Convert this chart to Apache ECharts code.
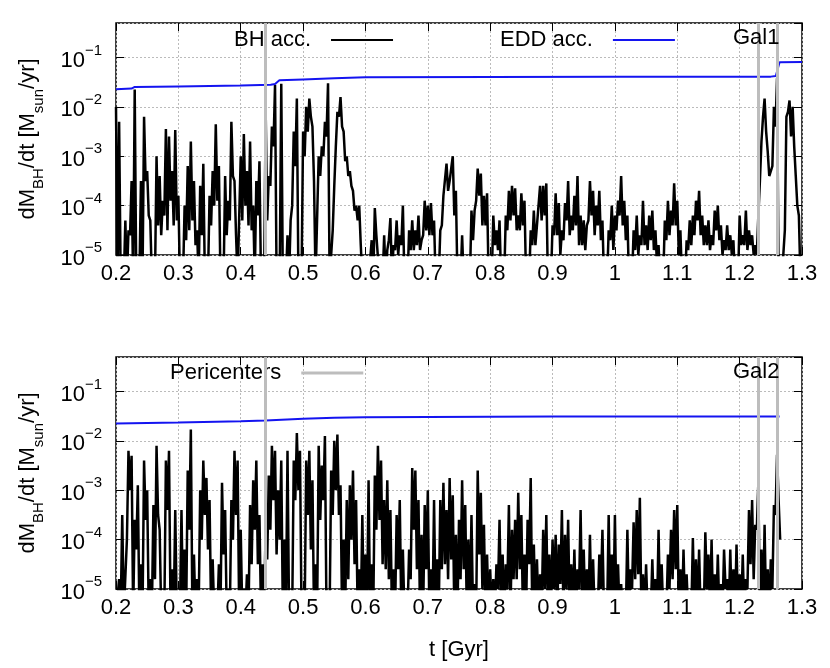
<!DOCTYPE html>
<html>
<head>
<meta charset="utf-8">
<script src="https://cdn.jsdelivr.net/npm/echarts@6/dist/echarts.min.js"></script>
<style>
  html, body { margin: 0; padding: 0; background: #fff; }
  #chart { width: 830px; height: 668px; }
</style>
</head>
<body>
<div id="chart"></div>
<script>
// time grid of the black curves (Gyr)
const tStart = 0.2;
const tStep = 0.005;

// log10 of dM_BH/dt, Gal1: peaks every 0.005 Gyr from 0.2 to 1.3
const bhGal1Log = [
  -2.0, -2.3, -5.5, -4.3, -4.5, -3.5, -1.65, -5.5, -3.5, -2.2, -3.3, -4.3, -5.5, -3.0, -3.4, -3.9, -2.45, -2.6, -3.3, -2.47,
  -3.8, -5.5, -4.0, -3.2, -2.7, -3.5, -4.5, -3.6, -3.15, -5.5, -3.8, -3.3, -2.35, -3.2, -5.5, -3.4, -3.9, -2.3, -3.5, -5.5,
  -3.0, -2.55, -3.3, -2.7, -4.0, -3.5, -3.1, -5.5, -2.1, -3.4, -2.4, -1.55, -5.5, -1.53, -5.5, -4.6, -4.3, -2.5, -1.83, -5.5,
  -2.5, -2.0, -1.83, -2.4, -5.5, -3.0, -2.8, -2.3, -1.52, -5.5, -3.6, -2.1, -1.8, -2.5, -3.0, -3.3, -3.7, -4.0, -4.0, -5.5,
  -5.5, -5.5, -4.7, -4.05, -4.6, -5.5, -4.6, -4.9, -4.25, -4.8, -4.3, -4.6, -4.0, -5.2, -4.5, -4.3, -4.5, -4.2, -4.7, -3.9,
  -4.0, -3.95, -4.3, -5.5, -4.5, -3.8, -3.15, -3.5, -3.0, -3.7, -5.5, -4.6, -5.5, -5.5, -4.1, -4.1, -3.25, -3.35, -3.8, -3.75,
  -5.5, -4.2, -4.5, -4.3, -5.5, -4.2, -3.7, -3.6, -3.65, -4.2, -3.75, -3.9, -5.5, -4.5, -4.1, -4.4, -3.6, -3.6, -3.55, -5.5,
  -4.4, -3.75, -3.95, -4.5, -3.95, -3.5, -4.2, -3.8, -3.4, -4.2, -4.3, -4.4, -3.5, -3.7, -4.0, -3.7, -4.3, -5.5, -4.5, -4.0,
  -4.2, -3.9, -3.4, -3.9, -4.2, -5.5, -4.5, -4.2, -4.6, -3.9, -4.4, -4.2, -4.1, -4.5, -4.8, -5.5, -4.3, -3.9, -4.1, -3.55,
  -3.9, -4.5, -5.5, -4.7, -4.3, -4.2, -3.9, -3.7, -4.2, -4.4, -4.3, -4.6, -4.1, -4.0, -4.4, -4.7, -4.4, -4.6, -4.7, -5.5,
  -4.2, -4.6, -4.1, -4.5, -4.6, -4.8, -4.2, -2.7, -1.83, -2.9, -3.4, -2.0, -1.42, -5.5, -5.5, -2.2, -1.87, -2.0, -3.4, -4.2,
  -5.5
];
// Gal1: troughs between consecutive peaks (bottom edge of the noisy band)
const bhGal1LowLog = [
  -5.5, -5.5, -5.5, -5.5, -4.6, -5.5, -5.5, -5.5, -5.5, -3.5, -4.2, -5.5, -5.5, -4.4, -4.6, -4.2, -4.5, -3.9, -4.4, -4.3,
  -5.5, -5.5, -4.7, -4.5, -4.3, -4.8, -5.5, -4.6, -5.5, -5.5, -4.4, -4.0, -3.9, -5.5, -5.5, -4.6, -4.3, -3.4, -4.6, -5.5,
  -4.3, -4.0, -4.4, -4.5, -5.5, -4.2, -5.5, -5.5, -4.3, -3.6, -2.8, -5.5, -5.5, -5.5, -5.5, -5.5, -4.0, -3.2, -5.5, -5.5,
  -3.0, -2.5, -2.2, -3.5, -5.5, -3.4, -3.0, -2.6, -5.5, -4.5, -2.8, -2.2, -2.4, -3.1, -3.4, -3.6, -4.1, -4.3, -4.8, -5.5,
  -5.5, -5.5, -5.5, -4.6, -5.5, -5.5, -5.5, -4.7, -5.5, -4.9, -5.0, -4.8, -5.5, -5.5, -4.9, -4.9, -4.8, -4.9, -4.6, -4.5,
  -4.6, -4.6, -5.5, -5.5, -4.4, -3.8, -3.7, -3.5, -4.2, -5.5, -5.5, -5.5, -5.5, -5.5, -4.7, -3.9, -3.8, -4.4, -4.4, -5.5,
  -5.5, -4.8, -4.9, -5.5, -5.5, -4.5, -4.3, -4.2, -4.5, -4.5, -4.4, -5.5, -5.5, -4.8, -4.8, -4.4, -4.3, -4.2, -5.5, -5.5,
  -4.6, -4.6, -5.0, -4.7, -4.3, -4.6, -4.5, -4.4, -4.8, -4.8, -4.9, -4.3, -4.2, -4.6, -4.4, -4.7, -5.5, -5.5, -4.7, -4.9,
  -4.5, -4.2, -4.4, -4.7, -5.5, -5.5, -4.9, -5.0, -4.8, -4.8, -4.9, -4.7, -4.9, -5.2, -5.5, -5.5, -4.7, -4.6, -4.4, -4.4,
  -5.0, -5.5, -5.5, -4.9, -4.8, -4.6, -4.3, -4.6, -4.8, -4.8, -4.9, -4.8, -4.5, -4.7, -5.0, -4.9, -4.9, -5.0, -5.5, -5.5,
  -4.8, -4.8, -4.9, -4.8, -5.0, -5.0, -3.5, -2.2, -2.5, -3.4, -3.2, -2.4, -5.5, -5.5, -4.5, -2.1, -2.6, -2.8, -4.0, -5.5
];

// log10 of dM_BH/dt, Gal2: peaks every 0.005 Gyr from 0.2 to 1.265
const bhGal2Log = [
  -5.5, -4.8, -3.5, -5.5, -2.2, -2.3, -3.6, -2.9, -4.5, -2.4, -3.0, -4.8, -3.3, -2.1, -3.8, -5.3, -2.4, -2.2, -4.6, -3.4,
  -5.5, -3.4, -4.2, -2.6, -1.77, -4.3, -4.8, -3.0, -2.4, -2.75, -3.2, -4.4, -5.5, -4.5, -2.85, -3.4, -5.0, -3.2, -2.2, -2.4,
  -3.8, -5.0, -4.7, -3.3, -2.8, -2.4, -3.5, -4.5, -3.7, -2.7, -2.1, -2.2, -3.0, -2.4, -4.0, -2.2, -5.5, -2.4, -1.84, -2.2,
  -5.5, -2.4, -2.2, -2.8, -4.5, -2.1, -2.5, -1.9, -5.5, -2.6, -2.0, -1.87, -2.9, -4.0, -3.2, -2.9, -2.6, -3.2, -4.6, -3.5,
  -4.3, -2.8, -4.5, -2.7, -2.1, -2.4, -3.2, -2.8, -3.4, -4.6, -3.5, -3.2, -4.2, -5.5, -4.2, -2.55, -2.6, -3.2, -3.9, -3.3,
  -3.0, -4.6, -3.2, -4.4, -3.2, -2.85, -3.4, -2.75, -3.1, -3.9, -3.6, -2.8, -3.3, -4.0, -3.5, -4.9, -2.6, -3.05, -3.7, -4.3,
  -4.6, -4.8, -4.5, -3.6, -4.3, -4.5, -3.3, -3.8, -3.6, -3.05, -3.5, -4.3, -3.6, -2.75, -4.1, -4.4, -4.7, -3.8, -3.5, -4.3,
  -4.0, -3.9, -4.1, -3.4, -3.9, -3.6, -4.5, -4.2, -4.6, -3.4, -4.2, -4.6, -3.9, -4.4, -5.5, -4.3, -3.8, -5.5, -3.5, -4.3,
  -3.5, -4.5, -4.9, -5.5, -3.8, -4.6, -3.65, -3.4, -3.15, -4.7, -4.5, -5.5, -4.4, -4.8, -3.8, -4.5, -5.3, -4.3, -3.8, -3.4,
  -3.3, -4.6, -4.2, -4.7, -5.5, -3.97, -4.4, -4.2, -5.0, -3.85, -4.3, -4.0, -4.7, -4.3, -4.9, -4.2, -4.8, -4.2, -4.6, -4.1,
  -4.7, -4.3, -4.8, -3.4, -3.2, -3.7, -2.85, -4.2, -3.7, -4.6, -4.4, -3.3, -2.28, -4.0
];
// Gal2: troughs between consecutive peaks
const bhGal2LowLog = [
  -5.5, -5.5, -5.5, -4.0, -3.0, -5.5, -4.2, -5.5, -5.5, -3.6, -5.5, -5.5, -4.8, -3.5, -5.5, -5.5, -3.4, -5.5, -5.5, -5.5,
  -5.5, -5.5, -5.5, -3.8, -5.5, -5.5, -5.5, -4.0, -3.5, -4.2, -5.5, -5.5, -5.5, -5.5, -4.3, -5.5, -5.5, -4.0, -3.5, -5.5,
  -5.5, -5.5, -5.5, -4.5, -3.8, -4.5, -5.5, -5.5, -4.4, -3.8, -3.2, -4.3, -4.0, -5.5, -5.5, -5.5, -5.5, -3.2, -3.0, -5.5,
  -5.5, -3.5, -4.2, -5.5, -5.5, -3.6, -3.2, -5.5, -5.5, -3.5, -3.0, -3.5, -5.5, -5.5, -4.8, -4.0, -4.5, -5.5, -5.5, -5.5,
  -5.5, -5.5, -5.5, -3.8, -3.6, -4.5, -4.6, -4.8, -5.5, -5.5, -4.6, -5.5, -5.5, -5.5, -4.8, -3.8, -4.6, -5.5, -5.5, -4.6,
  -5.5, -5.5, -5.5, -5.5, -4.6, -4.5, -4.8, -4.4, -5.5, -5.5, -4.8, -4.6, -5.5, -5.5, -5.5, -5.5, -4.3, -5.0, -5.5, -5.5,
  -5.5, -5.5, -5.0, -5.5, -5.5, -5.0, -5.5, -4.8, -4.8, -4.6, -5.5, -5.5, -4.5, -5.5, -5.5, -5.5, -5.5, -5.0, -5.5, -5.5,
  -5.0, -5.5, -4.9, -5.5, -5.0, -5.5, -5.5, -5.5, -5.0, -5.5, -5.5, -5.5, -5.5, -5.5, -5.5, -5.0, -5.5, -5.5, -5.5, -5.5,
  -5.5, -5.5, -5.5, -5.5, -5.5, -5.0, -4.8, -4.7, -5.5, -5.5, -5.5, -5.5, -5.5, -5.5, -5.5, -5.5, -5.5, -5.0, -4.8, -4.6,
  -5.5, -5.5, -5.5, -5.5, -5.5, -5.5, -5.5, -5.5, -5.5, -5.0, -5.5, -5.5, -5.5, -5.5, -5.5, -5.0, -5.5, -5.5, -5.5, -5.5,
  -5.5, -5.5, -5.0, -4.5, -4.8, -3.8, -5.5, -5.5, -5.5, -5.5, -5.0, -3.5, -3.2
];

// Eddington rate (Msun/yr)
const eddGal1T = [0.2, 0.225, 0.23, 0.3, 0.4, 0.448, 0.455, 0.462, 0.5, 0.55, 0.6, 0.8, 1.0, 1.25, 1.258, 1.264, 1.3];
const eddGal1V = [0.0227, 0.0235, 0.0253, 0.026, 0.0272, 0.0282, 0.029, 0.0345, 0.036, 0.038, 0.040, 0.0405, 0.041, 0.041, 0.042, 0.080, 0.081];
const eddGal2T = [0.2, 0.3, 0.4, 0.44, 0.5, 0.55, 0.6, 0.7, 0.9, 1.1, 1.264];
const eddGal2V = [0.0224, 0.0235, 0.025, 0.0258, 0.028, 0.0295, 0.030, 0.0305, 0.031, 0.031, 0.0312];

// pericenter passages (Gyr)
const pericenters = [0.444, 1.225, 1.256];

const FONT = 'Liberation Sans, Arial, sans-serif';
const GRID_L = 116, GRID_W = 686, GRID_H = 232;

// peaks on the 0.005 grid, troughs half a step later
function toPairs(peaks, lows) {
  const out = [];
  peaks.forEach((v, i) => {
    const t = tStart + i * tStep;
    out.push([+t.toFixed(4), Math.pow(10, v)]);
    if (i < lows.length) out.push([+(t + tStep / 2).toFixed(4), Math.pow(10, lows[i])]);
  });
  return out;
}
const zip = (ts, vs) => ts.map((t, i) => [t, vs[i]]);

const xLabelFmt = (v) => String(+v.toFixed(1));
const yLabelFmt = (v) => {
  const e = Math.round(Math.log10(v));
  return '{b|10}{e|\u2212' + (-e) + '}';
};

function xAxes(gridIndex, withName) {
  const common = {
    type: 'value', gridIndex: gridIndex, min: 0.2, max: 1.3, interval: 0.1,
    axisLine: { show: false },
    axisTick: { show: true, inside: true, length: 8, lineStyle: { color: '#000', width: 1 } }
  };
  return [
    Object.assign({}, common, {
      position: 'bottom',
      axisLabel: { show: true, margin: 8, fontSize: 22, fontFamily: FONT, color: '#000', formatter: xLabelFmt },
      splitLine: { show: true, lineStyle: { color: '#bbb', width: 1, type: [2, 2] } },
      name: withName ? 't [Gyr]' : '',
      nameLocation: 'middle', nameGap: 50,
      nameTextStyle: { fontSize: 22, fontFamily: FONT, color: '#000' }
    }),
    Object.assign({}, common, {
      position: 'top',
      axisLabel: { show: false },
      splitLine: { show: false }
    })
  ];
}

function yAxes(gridIndex) {
  const common = {
    type: 'log', logBase: 10, gridIndex: gridIndex, min: 1e-5, max: 0.5,
    axisLine: { show: false },
    axisTick: { show: true, inside: true, length: 8, lineStyle: { color: '#000', width: 1 } }
  };
  return [
    Object.assign({}, common, {
      position: 'left',
      axisLabel: {
        show: true, margin: 14, showMaxLabel: false, formatter: yLabelFmt,
        rich: {
          b: { fontSize: 22, fontFamily: FONT, color: '#000', padding: [7, 0, 0, 0] },
          e: { fontSize: 15, fontFamily: FONT, color: '#000', verticalAlign: 'top' }
        }
      },
      splitLine: { show: true, lineStyle: { color: '#bbb', width: 1, type: [2, 2] } },
      name: '{t|dM}{s|BH}{t|/dt [M}{s|sun}{t|/yr]}',
      nameLocation: 'middle', nameRotate: 90, nameGap: 70,
      nameTextStyle: {
        rich: {
          t: { fontSize: 22, fontFamily: FONT, color: '#000', padding: [0, 0, 7, 0] },
          s: { fontSize: 15, fontFamily: FONT, color: '#000', verticalAlign: 'bottom' }
        }
      }
    }),
    Object.assign({}, common, {
      position: 'right',
      axisLabel: { show: false },
      splitLine: { show: false }
    })
  ];
}

function panelSeries(gridIndex, peaks, lows, eddT, eddV) {
  const xi = gridIndex * 2, yi = gridIndex * 2;
  return [
    {
      name: 'Pericenters', type: 'line', xAxisIndex: xi, yAxisIndex: yi, data: [], z: 1,
      itemStyle: { color: '#bdbdbd' }, lineStyle: { color: '#bdbdbd' },
      markLine: {
        silent: true, symbol: ['none', 'none'], label: { show: false },
        lineStyle: { color: '#bdbdbd', width: 3, type: 'solid' },
        data: pericenters.map(t => ({ xAxis: t }))
      }
    },
    {
      name: 'BH acc.', type: 'line', xAxisIndex: xi, yAxisIndex: yi, z: 3,
      data: toPairs(peaks, lows), showSymbol: false, clip: true,
      itemStyle: { color: '#000' }, lineStyle: { color: '#000', width: 2.5, join: 'miter', miterLimit: 3 }
    },
    {
      name: 'EDD acc.', type: 'line', xAxisIndex: xi, yAxisIndex: yi, z: 4,
      data: zip(eddT, eddV), showSymbol: false, clip: true,
      itemStyle: { color: '#1414f0' }, lineStyle: { color: '#1414f0', width: 2 }
    }
  ];
}

const legendBase = {
  orient: 'horizontal', align: 'right', icon: 'rect', itemWidth: 62, itemHeight: 2,
  padding: 0, itemGap: 0, selectedMode: false,
  textStyle: { fontSize: 22, lineHeight: 22, fontFamily: FONT, color: '#000', padding: [0, 15, 0, 0] }
};

const chart = echarts.init(document.getElementById('chart'), null, { renderer: 'canvas' });
chart.setOption({
  backgroundColor: '#fff',
  animation: false,
  grid: [
    { left: GRID_L, top: 23, width: GRID_W, height: GRID_H, show: true, borderColor: '#000', borderWidth: 1.5, backgroundColor: 'transparent' },
    { left: GRID_L, top: 357, width: GRID_W, height: GRID_H, show: true, borderColor: '#000', borderWidth: 1.5, backgroundColor: 'transparent' }
  ],
  xAxis: xAxes(0, false).concat(xAxes(1, true)),
  yAxis: yAxes(0).concat(yAxes(1)),
  title: [
    { text: 'Gal1', left: 733, top: 27, padding: 0, textStyle: { fontSize: 22, lineHeight: 22, fontWeight: 'normal', fontFamily: FONT, color: '#000' } },
    { text: 'Gal2', left: 733, top: 361, padding: 0, textStyle: { fontSize: 22, lineHeight: 22, fontWeight: 'normal', fontFamily: FONT, color: '#000' } }
  ],
  legend: [
    Object.assign({}, legendBase, { data: ['BH acc.'], left: 234, top: 29 }),
    Object.assign({}, legendBase, { data: ['EDD acc.'], left: 500, top: 29 }),
    Object.assign({}, legendBase, { data: ['Pericenters'], left: 170, top: 362, itemHeight: 3 })
  ],
  series: panelSeries(0, bhGal1Log, bhGal1LowLog, eddGal1T, eddGal1V)
    .concat(panelSeries(1, bhGal2Log, bhGal2LowLog, eddGal2T, eddGal2V))
});
</script>
</body>
</html>
